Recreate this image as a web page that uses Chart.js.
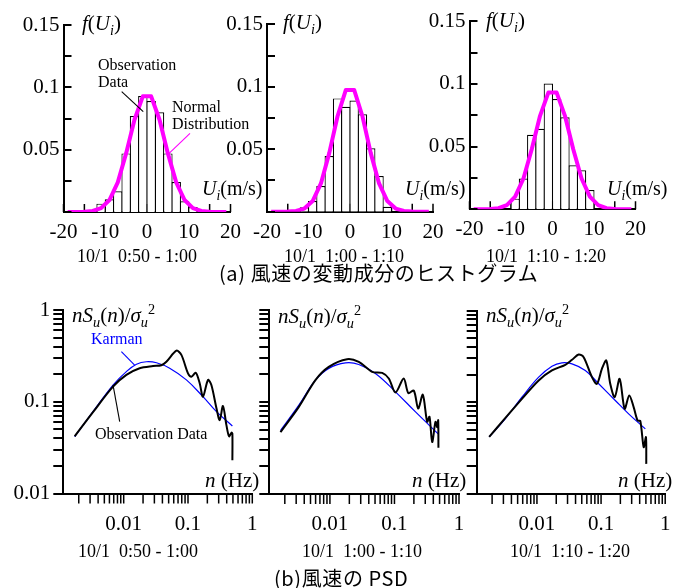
<!DOCTYPE html>
<html lang="ja">
<head>
<meta charset="UTF-8">
<title>風速の変動成分のヒストグラムと PSD</title>
<script src="https://cdn.jsdelivr.net/npm/chart.js"></script>
<style>
  body { margin: 0; background: #fff; }
  #wrap { position: relative; width: 686px; height: 588px; overflow: hidden; }
  #wrap canvas { position: absolute; left: 0; top: 0; }
  .t {
    position: absolute;
    white-space: pre;
    font-family: "Liberation Serif", "Times New Roman", serif;
    color: #000;
    line-height: 1;
  }
  .c { transform: translateX(-50%); }
  .jp { font-family: "Noto Sans CJK JP", sans-serif; letter-spacing: 0.6px; }
  sub, sup { font-size: 0.68em; line-height: 0; }
</style>
</head>
<body>
<div id="wrap">
  <canvas id="h1" width="686" height="588"></canvas>
  <canvas id="h2" width="686" height="588"></canvas>
  <canvas id="h3" width="686" height="588"></canvas>
  <canvas id="p1" width="686" height="588"></canvas>
  <canvas id="p2" width="686" height="588"></canvas>
  <canvas id="p3" width="686" height="588"></canvas>

  <!-- (a) 軸ラベル・注記 -->
  <div class="t" style="left:82px;top:13px;font-size:21px"><i>f</i>(<i>U</i><sub><i>i</i></sub>)</div>
  <div class="t" style="left:283px;top:12px;font-size:21px"><i>f</i>(<i>U</i><sub><i>i</i></sub>)</div>
  <div class="t" style="left:486px;top:10px;font-size:21px"><i>f</i>(<i>U</i><sub><i>i</i></sub>)</div>
  <div class="t" style="left:202px;top:178px;font-size:20px"><i>U</i><sub><i>i</i></sub>(m/s)</div>
  <div class="t" style="left:405px;top:178px;font-size:20px"><i>U</i><sub><i>i</i></sub>(m/s)</div>
  <div class="t" style="left:607px;top:178px;font-size:20px"><i>U</i><sub><i>i</i></sub>(m/s)</div>
  <div class="t" style="left:98px;top:57px;font-size:16px">Observation</div>
  <div class="t" style="left:98px;top:74px;font-size:16px">Data</div>
  <div class="t" style="left:172px;top:99px;font-size:16px">Normal</div>
  <div class="t" style="left:172px;top:116px;font-size:16px">Distribution</div>
  <div class="t c" style="left:137px;top:247px;font-size:18px">10/1  0:50 - 1:00</div>
  <div class="t c" style="left:344px;top:247px;font-size:18px">10/1  1:00 - 1:10</div>
  <div class="t c" style="left:546px;top:247px;font-size:18px">10/1  1:10 - 1:20</div>
  <div class="t jp" style="left:219px;top:263px;font-size:20px">(a) 風速の変動成分のヒストグラム</div>

  <!-- (b) 軸ラベル・注記 -->
  <div class="t" style="left:72px;top:305px;font-size:21px"><i>nS</i><sub><i>u</i></sub>(<i>n</i>)/<i>σ</i><sub><i>u</i></sub><sup>2</sup></div>
  <div class="t" style="left:278px;top:306px;font-size:21px"><i>nS</i><sub><i>u</i></sub>(<i>n</i>)/<i>σ</i><sub><i>u</i></sub><sup>2</sup></div>
  <div class="t" style="left:486px;top:305px;font-size:21px"><i>nS</i><sub><i>u</i></sub>(<i>n</i>)/<i>σ</i><sub><i>u</i></sub><sup>2</sup></div>
  <div class="t" style="left:91px;top:331px;font-size:16px;color:#0000ff">Karman</div>
  <div class="t" style="left:95px;top:426px;font-size:16px">Observation Data</div>
  <div class="t" style="left:205px;top:470px;font-size:21px"><i>n</i> (Hz)</div>
  <div class="t" style="left:412px;top:470px;font-size:21px"><i>n</i> (Hz)</div>
  <div class="t" style="left:618px;top:470px;font-size:21px"><i>n</i> (Hz)</div>
  <div class="t c" style="left:138px;top:542px;font-size:18px">10/1  0:50 - 1:00</div>
  <div class="t c" style="left:362px;top:542px;font-size:18px">10/1  1:00 - 1:10</div>
  <div class="t c" style="left:570px;top:542px;font-size:18px">10/1  1:10 - 1:20</div>
  <div class="t jp" style="left:274px;top:568px;font-size:20px">(b)風速の PSD</div>
</div>

<script>
// ---- (a) ヒストグラム ----
const histXTicks = [-20, -15, -10, -5, 0, 5, 10, 15, 20];
const histXLabels = ['-20', '', '-10', '', '0', '', '10', '', '20'];
const histYTicks = [0, 0.025, 0.05, 0.075, 0.1, 0.125, 0.15];
const histYLabels = ['', '', '0.05', '', '0.1', '', '0.15'];

// 階級の中央値 (幅 2 m/s) と相対度数
const bins1 = [-11, -9, -7, -5, -3, -1, 1, 3, 5, 7, 9, 11];
const freq1 = [0.0067, 0.0102, 0.0166, 0.047, 0.077, 0.093, 0.089, 0.080, 0.047, 0.024, 0.0086, 0.004];
const bins2 = [-11, -9, -7, -5, -3, -1, 1, 3, 5, 7, 9];
const freq2 = [0.0035, 0.0085, 0.0205, 0.0446, 0.0907, 0.084, 0.089, 0.078, 0.0507, 0.0286, 0.004];
const bins3 = [-9, -7, -5, -3, -1, 1, 3, 5, 7, 9];
const freq3 = [0.0085, 0.0246, 0.0594, 0.0642, 0.1003, 0.088, 0.0734, 0.0351, 0.0312, 0.0153];

// 正規分布
const normX = [-19, -17, -15, -13, -11, -9, -7, -5, -3, -1, 1, 3, 5, 7, 9, 11, 13, 15, 17, 19];
const norm1 = [0, 0, 0.0002, 0.0008, 0.0031, 0.0096, 0.0238, 0.047, 0.074, 0.0928, 0.0928, 0.074, 0.047, 0.0238, 0.0096, 0.0031, 0.0008, 0.0002, 0, 0];
const norm2 = [0, 0, 0.0001, 0.0006, 0.0025, 0.0085, 0.0226, 0.0469, 0.0764, 0.0975, 0.0975, 0.0764, 0.0469, 0.0226, 0.0085, 0.0025, 0.0006, 0.0001, 0, 0];
const norm3 = [0, 0, 0.0002, 0.0009, 0.0034, 0.0101, 0.0246, 0.0479, 0.0746, 0.0931, 0.0931, 0.0746, 0.0479, 0.0246, 0.0101, 0.0034, 0.0009, 0.0002, 0, 0];

// ---- (b) PSD ----
const psdXTicks = [0.002, 0.003, 0.004, 0.005, 0.006, 0.007, 0.008, 0.009,
  0.01, 0.02, 0.03, 0.04, 0.05, 0.06, 0.07, 0.08, 0.09,
  0.1, 0.2, 0.3, 0.4, 0.5, 0.6, 0.7, 0.8, 0.9, 1];
const psdYTicks = [0.01, 0.02, 0.03, 0.04, 0.05, 0.06, 0.07, 0.08, 0.09,
  0.1, 0.2, 0.3, 0.4, 0.5, 0.6, 0.7, 0.8, 0.9, 1];
const psdTickText = { '0.01': '0.01', '0.1': '0.1', '1': '1' };
const psdXMin = 0.00115;

// 10/1 0:50 - 1:00
const kar1N = [0.00173, 0.00333, 0.00682, 0.011, 0.0158, 0.0225, 0.0324, 0.0519, 0.0944, 0.171, 0.277, 0.49];
const kar1 = [0.0416, 0.078, 0.152, 0.213, 0.256, 0.273, 0.266, 0.232, 0.173, 0.1135, 0.078, 0.0545];
const obs1N = [0.00173, 0.00333, 0.00682, 0.011, 0.0177, 0.0286, 0.0385, 0.0461, 0.0661, 0.0789, 0.1, 0.113, 0.132,
  0.152, 0.171, 0.205, 0.231, 0.277, 0.311, 0.35, 0.395, 0.435, 0.475, 0.49, 0.49];
const obs1 = [0.042, 0.077, 0.146, 0.196, 0.232, 0.245, 0.25, 0.273, 0.36, 0.324, 0.204, 0.1876, 0.207,
  0.159, 0.1135, 0.173, 0.152, 0.085, 0.063, 0.09, 0.056, 0.042, 0.046, 0.045, 0.023];

// 10/1 1:00 - 1:10
const kar2N = [0.00171, 0.00328, 0.00596, 0.0096, 0.0174, 0.028, 0.0507, 0.1038, 0.212, 0.476];
const kar2 = [0.049, 0.092, 0.173, 0.232, 0.266, 0.256, 0.204, 0.129, 0.078, 0.045];
const obs2N = [0.00171, 0.00328, 0.00596, 0.0096, 0.01845, 0.028, 0.0451, 0.0646, 0.0817, 0.1038, 0.139, 0.164,
  0.1995, 0.233, 0.275, 0.321, 0.349, 0.384, 0.4325, 0.459, 0.476, 0.48];
const obs2 = [0.047, 0.088, 0.173, 0.241, 0.292, 0.273, 0.213, 0.207, 0.18, 0.127, 0.18, 0.125,
  0.133, 0.085, 0.12, 0.061, 0.069, 0.0367, 0.061, 0.0533, 0.0633, 0.0319];

// 10/1 1:10 - 1:20
const kar3N = [0.0018, 0.0032, 0.00583, 0.01064, 0.01714, 0.0245, 0.0352, 0.0568, 0.0918, 0.1667, 0.269, 0.49];
const kar3 = [0.042, 0.066, 0.1135, 0.1876, 0.247, 0.269, 0.262, 0.222, 0.159, 0.1045, 0.0748, 0.0513];
const obs3N = [0.0018, 0.0032, 0.00583, 0.01064, 0.01714, 0.0277, 0.0352, 0.0447, 0.0535, 0.0721, 0.0863, 0.1033,
  0.1205, 0.139, 0.163, 0.195, 0.233, 0.275, 0.323, 0.372, 0.409, 0.462, 0.501, 0.507];
const obs3 = [0.042, 0.067, 0.109, 0.173, 0.222, 0.256, 0.29, 0.331, 0.31, 0.188, 0.159, 0.232,
  0.285, 0.159, 0.1135, 0.18, 0.085, 0.1186, 0.088, 0.063, 0.0625, 0.0324, 0.0416, 0.0213];

const SERIF = '"Liberation Serif", "Times New Roman", serif';
Chart.defaults.font.family = SERIF;
Chart.defaults.color = '#000';

const W = 686, H = 588;
const pts = (xs, ys) => xs.map((x, i) => ({ x, y: ys[i] }));
function pad(a) {
  return { left: a.l, top: a.t, right: W - a.r, bottom: H - a.b };
}

// 目盛り線・目盛りラベル・引き出し線
// ax: { xTick, yTick: 符号つき長さ, xLabel(v,i), yLabel(v,i), xOff: ラベル中心の軸からの距離, yGap }
function makeAxes(ax, lines) {
  return {
    id: 'axes',
    beforeDatasetsDraw(chart) {
      // x 目盛り（棒の下に隠れるよう先に描く）とラベル
      const { ctx, chartArea: a, scales } = chart;
      const sx = scales.x, sy = scales.y;
      ctx.save();
      ctx.strokeStyle = '#000';
      ctx.lineWidth = 1.5;
      ctx.beginPath();
      sx.ticks.forEach(t => {
        const p = sx.getPixelForValue(t.value);
        ctx.moveTo(p, a.bottom);
        ctx.lineTo(p, a.bottom + ax.xTick);
      });
      ctx.stroke();

      ctx.fillStyle = '#000';
      ctx.font = '21px ' + SERIF;
      ctx.textBaseline = 'middle';
      ctx.textAlign = 'center';
      sx.ticks.forEach((t, i) => {
        const s = ax.xLabel(t.value, i);
        if (s) ctx.fillText(s, sx.getPixelForValue(t.value), a.bottom + ax.xOff);
      });
      ctx.textAlign = 'right';
      sy.ticks.forEach((t, i) => {
        const s = ax.yLabel(t.value, i);
        if (s) ctx.fillText(s, a.left - ax.yGap, sy.getPixelForValue(t.value));
      });
      ctx.restore();
    },
    afterDatasetsDraw(chart) {
      const { ctx, chartArea: a, scales } = chart;
      const sy = scales.y;
      ctx.save();
      // y 目盛り
      ctx.strokeStyle = '#000';
      ctx.lineWidth = 2;
      ctx.beginPath();
      sy.ticks.forEach(t => {
        const p = Math.round(sy.getPixelForValue(t.value));
        ctx.moveTo(a.left, p);
        ctx.lineTo(a.left + ax.yTick, p);
      });
      ctx.stroke();
      // 引き出し線
      ctx.lineWidth = 1.1;
      lines.forEach(l => {
        ctx.strokeStyle = l.color;
        ctx.beginPath();
        ctx.moveTo(scales.x.getPixelForValue(l.x1), sy.getPixelForValue(l.y1));
        ctx.lineTo(scales.x.getPixelForValue(l.x2), sy.getPixelForValue(l.y2));
        ctx.stroke();
      });
      ctx.restore();
    }
  };
}

function baseScale(extra, tickValues) {
  return Object.assign({
    grid: { display: false, drawTicks: false },
    border: { color: '#000', width: 2 },
    ticks: { display: false, autoSkip: false },
    afterBuildTicks: s => { s.ticks = tickValues.map(v => ({ value: v })); }
  }, extra);
}

function histChart(id, area, bins, freq, norm, lines) {
  return new Chart(document.getElementById(id), {
    type: 'bar',
    data: {
      datasets: [{
        type: 'line',
        data: pts(normX, norm),
        borderColor: '#ff00ff',
        borderWidth: 4,
        pointRadius: 0,
        tension: 0,
        borderJoinStyle: 'round',
        order: 0
      }, {
        type: 'bar',
        data: pts(bins, freq),
        backgroundColor: '#fff',
        borderColor: '#000',
        borderWidth: 1.2,
        barPercentage: 1.13,
        categoryPercentage: 1,
        order: 1
      }]
    },
    options: {
      responsive: false,
      animation: false,
      events: [],
      layout: { padding: pad(area) },
      plugins: { legend: { display: false }, tooltip: { enabled: false } },
      scales: {
        x: baseScale({ type: 'linear', min: -20, max: 20, offset: false, afterFit: s => { s.height = 0; } }, histXTicks),
        y: baseScale({ type: 'linear', min: 0, max: 0.15, afterFit: s => { s.width = 0; } }, histYTicks)
      }
    },
    plugins: [makeAxes({
      xTick: -8, yTick: 8, xOff: 20.6, yGap: 4,
      xLabel: (v, i) => histXLabels[i],
      yLabel: (v, i) => histYLabels[i]
    }, lines)]
  });
}

function psdChart(id, area, obsN, obs, karN, kar, yLabels, lines) {
  return new Chart(document.getElementById(id), {
    type: 'line',
    data: {
      datasets: [{
        data: pts(obsN, obs),
        borderColor: '#000',
        borderWidth: 2,
        pointRadius: 0,
        tension: 0.3
      }, {
        data: pts(karN, kar),
        borderColor: '#0000ff',
        borderWidth: 1.2,
        pointRadius: 0,
        tension: 0.4
      }]
    },
    options: {
      responsive: false,
      animation: false,
      events: [],
      layout: { padding: pad(area) },
      plugins: { legend: { display: false }, tooltip: { enabled: false } },
      scales: {
        x: baseScale({ type: 'logarithmic', min: psdXMin, max: 1, afterFit: s => { s.height = 0; } }, psdXTicks),
        y: baseScale({ type: 'logarithmic', min: 0.01, max: 1, afterFit: s => { s.width = 0; } }, psdYTicks)
      }
    },
    plugins: [makeAxes({
      xTick: 10, yTick: -10, xOff: 30.6, yGap: 13,
      xLabel: v => psdTickText[String(v)] || '',
      yLabel: v => (yLabels ? psdTickText[String(v)] || '' : '')
    }, lines)]
  });
}

histChart('h1', { l: 63.5, t: 25, r: 230.5, b: 212 }, bins1, freq1, norm1, [
  { x1: -6.06, y1: 0.0965, x2: -0.9, y2: 0.0805, color: '#000' },
  { x1: 10.3, y1: 0.0631, x2: 5.1, y2: 0.0465, color: '#ff00ff' }
]);
histChart('h2', { l: 267, t: 24.3, r: 433, b: 211.7 }, bins2, freq2, norm2, []);
histChart('h3', { l: 469.5, t: 21.3, r: 635.5, b: 209.3 }, bins3, freq3, norm3, []);

psdChart('p1', { l: 63.3, t: 310, r: 252.3, b: 493.5 }, obs1N, obs1, kar1N, kar1, true, [
  { x1: 0.0092, y1: 0.351, x2: 0.0148, y2: 0.251, color: '#0000ff' },
  { x1: 0.00682, y1: 0.1524, x2: 0.00867, y2: 0.0606, color: '#000' }
]);
psdChart('p2', { l: 269.3, t: 310, r: 459, b: 494 }, obs2N, obs2, kar2N, kar2, false, []);
psdChart('p3', { l: 476.7, t: 310.5, r: 665.2, b: 494 }, obs3N, obs3, kar3N, kar3, false, []);
</script>
</body>
</html>
